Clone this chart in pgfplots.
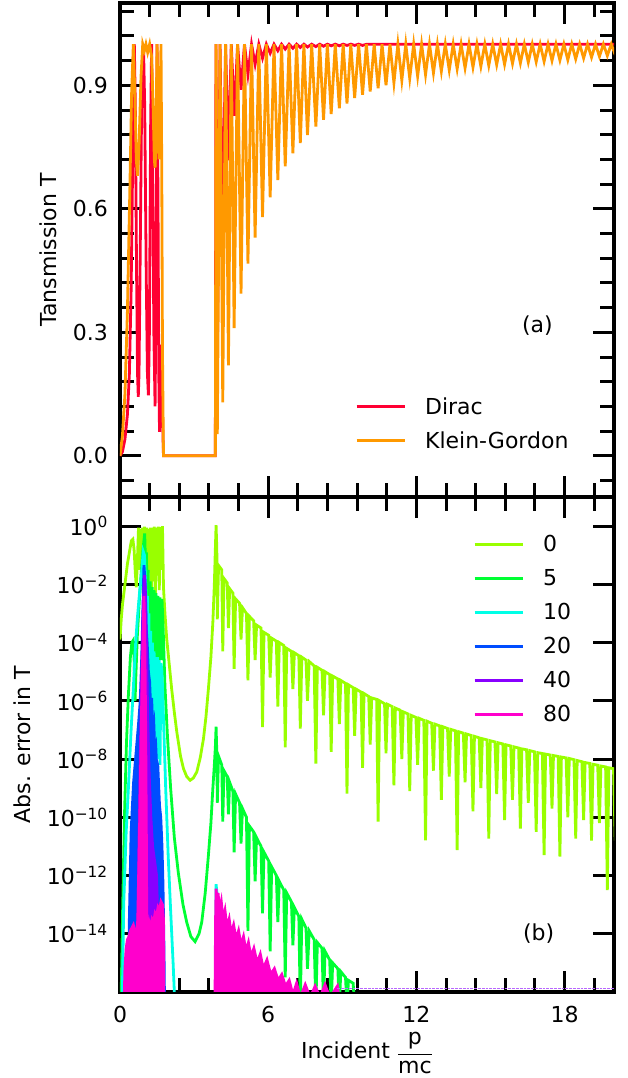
\documentclass[border=0pt]{standalone}
\usepackage{fontspec}
\setmainfont{DejaVu Sans}
\usepackage{pgfplots}
\pgfplotsset{compat=1.18}

\definecolor{cD}{RGB}{255,0,51}
\definecolor{cKG}{RGB}{255,153,0}
\definecolor{c0}{RGB}{153,255,0}
\definecolor{c5}{RGB}{0,255,51}
\definecolor{c10}{RGB}{0,255,230}
\definecolor{c20}{RGB}{0,77,255}
\definecolor{c40}{RGB}{136,0,255}
\definecolor{c80}{RGB}{255,0,204}

\newcommand{\lbl}{\fontsize{22}{26}\selectfont}

\pgfplotsset{panel/.style={
  scale only axis, width=494pt,
  xmin=0, xmax=20,
  xtick={0,6,12,18},
  minor xtick={1.2,2.4,3.6,4.8,7.2,8.4,9.6,10.8,13.2,14.4,15.6,16.8,19.2},
  xtick pos=both, ytick pos=both,
  major tick length=21pt, minor tick length=14pt,
  tick style={black, line width=3pt},
  axis line style={line width=4pt},
  tick label style={font=\lbl},
  label style={font=\lbl},
  yticklabel style={inner sep=0pt, xshift=-12pt},
  xticklabel style={inner sep=0pt, yshift=-14pt},
  legend style={draw=none, fill=none, font=\lbl, inner sep=0pt,
    row sep=14.3pt, column sep=18pt, nodes={inner sep=1pt}},
  legend cell align=left,
  legend image code/.code={\draw[#1, line width=3pt] (0pt,0pt) -- (48pt,0pt);},
  every axis plot/.append style={line width=2.8pt},
}}

\begin{document}
\begin{tikzpicture}

% ---------- lower panel: absolute error (log10 values) ----------
\begin{axis}[panel, name=bot, at={(0,0)}, anchor=south west,
  height=495pt,
  ymin=-16, ymax=1,
  ytick={-14,-12,-10,-8,-6,-4,-2,0},
  yticklabels={10\textsuperscript{−14},10\textsuperscript{−12},10\textsuperscript{−10},10\textsuperscript{−8},10\textsuperscript{−6},10\textsuperscript{−4},10\textsuperscript{−2},10\textsuperscript{0}},
  xticklabels={0,6,12,18},
  xlabel={Incident $\displaystyle\frac{\mbox{p}}{\mbox{mc}}$},
  xlabel style={at={(axis description cs:0.5,0)}, anchor=center, yshift=-61pt},
  ylabel={Abs. error in T},
  ylabel style={at={(axis description cs:-0.198,0.5)}, anchor=center},
  legend style={at={(axis cs:14.29,-0.27)}, anchor=north west},
]
\addplot[c0] coordinates {
(0.0,-3.9) (0.05,-3.2) (0.1,-2.7) (0.2,-2.0) (0.3,-1.3) (0.4,-0.8) (0.46,-0.5) (0.52,-0.45)
(0.57,-0.8) (0.62,-1.6) (0.66,-2.1) (0.7,-1.3) (0.75,-0.05) (0.79,-1.5) (0.83,-0.1) (0.87,-2.0)
(0.91,-0.05) (0.95,-1.2) (0.99,-0.02) (1.03,-1.8) (1.07,-0.05) (1.11,-2.3) (1.15,-0.1) (1.19,-1.6)
(1.23,-0.05) (1.27,-2.4) (1.31,-0.05) (1.35,-1.9) (1.39,-0.02) (1.43,-2.6) (1.47,-0.05) (1.51,-1.7)
(1.55,-0.02) (1.59,-2.2) (1.63,-0.03) (1.67,-1.5) (1.72,0.0) (1.76,-2.1) (1.82,-3.0) (1.89,-3.86)
(2.0,-4.8) (2.09,-5.58) (2.2,-6.4) (2.3,-7.07) (2.45,-7.9) (2.57,-8.33) (2.7,-8.6) (2.84,-8.73)
(2.97,-8.65) (3.11,-8.44) (3.25,-7.95) (3.38,-7.3) (3.48,-6.55) (3.58,-5.58) (3.68,-4.5) (3.76,-3.29)
(3.82,-2.0) (3.86,-0.8) (3.89,0.03) (3.92,-0.8) (3.94,-3.2)
(3.99,-1.35) (4.12,-1.5) (4.16,-4.3)
(4.21,-1.8) (4.34,-1.95) (4.39,-3.5)
(4.44,-2.15) (4.57,-2.3) (4.62,-4.9)
(4.68,-2.5) (4.84,-2.65) (4.90,-3.9)
(4.96,-2.8) (5.12,-3.0) (5.18,-5.3)
(5.24,-3.1) (5.41,-3.25) (5.47,-4.6)
(5.53,-3.4) (5.71,-3.5) (5.77,-6.9)
(5.83,-3.65) (6.02,-3.75) (6.08,-5.2)
(6.14,-3.85) (6.33,-3.95) (6.39,-6.2)
(6.45,-4.0) (6.63,-4.1) (6.69,-7.6)
(6.75,-4.2) (6.94,-4.3) (7.00,-5.6)
(7.06,-4.35) (7.24,-4.45) (7.30,-6.95)
(7.36,-4.5) (7.53,-4.6) (7.59,-6.0)
(7.66,-4.65) (7.86,-4.8) (7.93,-8.16)
(7.99,-4.85) (8.18,-4.95) (8.24,-6.5)
(8.30,-5.0) (8.49,-5.1) (8.55,-7.75)
(8.61,-5.15) (8.82,-5.25) (8.88,-6.8)
(8.94,-5.3) (9.13,-5.4) (9.19,-9.19)
(9.25,-5.45) (9.44,-5.55) (9.50,-7.2)
(9.56,-5.6) (9.76,-5.7) (9.82,-8.3)
(9.88,-5.75) (10.07,-5.85) (10.13,-7.5)
(10.19,-5.9) (10.39,-5.95) (10.45,-10.15)
(10.51,-6.0) (10.71,-6.1) (10.77,-7.8)
(10.83,-6.12) (11.02,-6.2) (11.09,-8.9)
(11.15,-6.25) (11.34,-6.32) (11.41,-8.0)
(11.47,-6.38) (11.66,-6.45) (11.73,-9.1)
(11.79,-6.5) (11.98,-6.57) (12.05,-8.2)
(12.11,-6.6) (12.30,-6.67) (12.37,-10.79)
(12.43,-6.7) (12.62,-6.77) (12.69,-8.4)
(12.75,-6.8) (12.94,-6.86) (13.01,-9.4)
(13.07,-6.89) (13.26,-6.95) (13.33,-8.6)
(13.39,-6.98) (13.58,-7.03) (13.65,-11.13)
(13.71,-7.06) (13.90,-7.11) (13.97,-8.8)
(14.03,-7.14) (14.22,-7.19) (14.29,-9.8)
(14.35,-7.22) (14.54,-7.27) (14.61,-9.0)
(14.67,-7.3) (14.86,-7.34) (14.93,-10.73)
(14.99,-7.37) (15.18,-7.41) (15.25,-9.2)
(15.31,-7.44) (15.50,-7.48) (15.57,-10.1)
(15.63,-7.51) (15.82,-7.55) (15.89,-9.4)
(15.95,-7.58) (16.14,-7.62) (16.21,-10.39)
(16.27,-7.65) (16.46,-7.68) (16.53,-9.5)
(16.59,-7.71) (16.78,-7.75) (16.85,-10.5)
(16.91,-7.78) (17.10,-7.81) (17.17,-11.3)
(17.23,-7.83) (17.42,-7.86) (17.49,-9.7)
(17.55,-7.88) (17.74,-7.91) (17.81,-11.35)
(17.87,-7.93) (18.06,-7.96) (18.13,-10.0)
(18.19,-7.98) (18.38,-8.02) (18.45,-10.73)
(18.51,-8.05) (18.70,-8.09) (18.77,-10.1)
(18.83,-8.12) (19.02,-8.15) (19.09,-10.8)
(19.15,-8.18) (19.34,-8.21) (19.41,-10.2)
(19.47,-8.24) (19.66,-8.27) (19.73,-12.5)
(19.79,-8.3) (19.98,-8.33) (20.05,-10.8)
};
\addlegendentry{0}

\addplot[c5] coordinates {
(0.0,-17) (0.05,-16.0) (0.1,-13.5) (0.18,-10.0) (0.26,-7.5) (0.34,-5.8) (0.42,-4.5) (0.48,-4.0)
(0.53,-3.93) (0.57,-4.5) (0.61,-6.0) (0.64,-5.2) (0.7,-3.8) (0.78,-2.6) (0.86,-1.6) (0.93,-0.8)
(1.0,-0.25) (1.04,-1.5) (1.07,-0.9) (1.1,-2.8) (1.14,-1.5) (1.18,-3.6) (1.22,-1.9) (1.26,-4.0)
(1.3,-2.1) (1.34,-4.3) (1.38,-2.2) (1.42,-4.5) (1.46,-2.3) (1.5,-4.5) (1.54,-2.4) (1.58,-4.6)
(1.62,-2.45) (1.66,-4.6) (1.7,-2.5) (1.75,-3.6) (1.82,-5.5) (1.92,-7.2) (2.05,-9.0) (2.2,-10.7)
(2.36,-11.9) (2.55,-13.0) (2.7,-13.6) (2.87,-14.1) (3.04,-14.27) (3.2,-14.0) (3.31,-13.6) (3.45,-12.6)
(3.58,-11.3) (3.68,-10.2) (3.76,-9.0) (3.82,-8.2) (3.86,-7.6) (3.89,-6.89) (3.92,-7.8) (3.94,-9.5)
(3.99,-7.9) (4.12,-8.2) (4.16,-10.15)
(4.21,-8.4) (4.34,-8.6) (4.39,-9.9)
(4.44,-8.8) (4.57,-9.1) (4.62,-11.2)
(4.68,-9.2) (4.84,-9.5) (4.90,-10.9)
(4.96,-9.7) (5.12,-10.0) (5.18,-13.9)
(5.24,-10.3) (5.41,-10.5) (5.47,-12.2)
(5.53,-10.7) (5.71,-11.0) (5.77,-13.3)
(5.83,-11.2) (6.02,-11.5) (6.08,-14.6)
(6.14,-11.7) (6.33,-12.0) (6.39,-13.6)
(6.45,-12.2) (6.63,-12.5) (6.69,-15.5)
(6.75,-12.6) (6.94,-12.9) (7.00,-14.4)
(7.06,-13.1) (7.24,-13.4) (7.30,-16.5)
(7.36,-13.5) (7.53,-13.8) (7.59,-15.2)
(7.66,-13.9) (7.86,-14.2) (7.93,-16.5)
(7.99,-14.3) (8.18,-14.5) (8.24,-16.5)
(8.30,-14.6) (8.49,-14.9) (8.55,-16.5)
(8.61,-15.0) (8.82,-15.2) (8.88,-16.5)
(8.94,-15.3) (9.13,-15.5) (9.19,-16.5)
(9.25,-15.6) (9.44,-15.7) (9.50,-16.5) (9.6,-17)
};
\addlegendentry{5}

\addplot[c10] coordinates {
(0.08,-17) (0.15,-13.0) (0.25,-10.5) (0.34,-9.0) (0.45,-7.0) (0.54,-5.58) (0.62,-4.2) (0.7,-3.2)
(0.8,-2.2) (0.88,-1.56) (0.94,-0.87) (0.99,-1.0) (1.04,-2.0) (1.08,-3.0) (1.11,-2.4) (1.14,-5.0)
(1.17,-3.0) (1.2,-6.0) (1.24,-3.6) (1.27,-6.5) (1.31,-4.0) (1.34,-7.0) (1.38,-4.3) (1.41,-7.5)
(1.45,-4.5) (1.48,-7.8) (1.52,-4.5) (1.55,-8.0) (1.59,-4.6) (1.62,-8.2) (1.66,-4.7) (1.7,-5.0)
(1.76,-6.6) (1.85,-9.0) (1.95,-11.3) (2.05,-13.2) (2.15,-15.0) (2.25,-17)
};
\addlegendentry{10}
\addplot[c10, forget plot] coordinates {
(3.86,-17) (3.89,-12.3) (3.95,-12.8) (4.05,-13.2) (4.15,-13.4) (4.3,-13.8) (4.5,-14.2) (4.7,-17)
};

\addplot[c20, fill=c20] coordinates {
(0.33,-17) (0.38,-13.5) (0.45,-10.5) (0.55,-8.8) (0.65,-7.8) (0.75,-6.8) (0.82,-6.0) (0.88,-4.5)
(0.93,-2.8) (0.97,-1.34) (1.02,-2.0) (1.06,-3.5) (1.1,-4.0) (1.15,-5.0) (1.2,-5.35) (1.24,-6.2)
(1.28,-5.9) (1.33,-7.0) (1.37,-6.8) (1.41,-7.76) (1.45,-7.6) (1.5,-8.55) (1.54,-8.4) (1.6,-9.6)
(1.65,-10.0) (1.7,-11.0) (1.74,-12.3) (1.78,-14.5) (1.81,-17)
};
\addlegendentry{20}

\addplot[c40, fill=c40] coordinates {
(0.68,-17) (0.78,-10) (0.86,-6.0) (0.93,-3.0) (0.98,-1.8) (1.0,-1.68) (1.04,-2.6) (1.08,-4.5)
(1.12,-6.5) (1.18,-8.5) (1.25,-10.0) (1.32,-11.0) (1.4,-11.5) (1.48,-12.0) (1.53,-13.5) (1.58,-17)
};
\addlegendentry{40}

\addplot[c80, fill=c80] coordinates {
(0.15,-17) (0.2,-15.2) (0.25,-14.5) (0.3,-14.2) (0.36,-14.1) (0.42,-13.9) (0.48,-13.8) (0.54,-13.7)
(0.6,-13.9) (0.66,-14.3) (0.72,-13.5) (0.8,-10.0) (0.88,-6.0) (0.94,-3.5) (0.97,-2.4) (1.0,-3.5)
(1.04,-7.0) (1.07,-11.0) (1.09,-15.0) (1.1,-17)
};
\addlegendentry{80}
\addplot[c80, fill=c80, forget plot] coordinates {
(1.12,-17) (1.13,-14.0) (1.18,-13.6) (1.24,-13.8) (1.3,-13.5) (1.36,-13.6) (1.42,-13.3) (1.48,-13.4)
(1.54,-13.1) (1.6,-13.2) (1.66,-12.9) (1.72,-13.0) (1.76,-13.5) (1.78,-17)
};
\addplot[c80, fill=c80, forget plot] coordinates {
(3.84,-17) (3.87,-13.5) (3.89,-12.45) (3.93,-12.9) (3.97,-12.6) (4.03,-13.2) (4.1,-12.9) (4.17,-13.5)
(4.25,-13.2) (4.33,-13.8) (4.42,-13.5) (4.5,-14.0) (4.6,-13.7) (4.7,-14.2) (4.8,-13.9) (4.9,-14.4)
(5.0,-14.1) (5.1,-14.6) (5.2,-14.3) (5.3,-14.8) (5.42,-14.5) (5.55,-15.0) (5.68,-14.7) (5.8,-15.2)
(5.95,-14.9) (6.1,-15.4) (6.25,-15.2) (6.4,-15.6) (6.55,-15.4) (6.7,-15.8) (6.85,-15.6) (7.0,-16.1)
(7.15,-15.7) (7.3,-16.2) (7.5,-15.75) (7.7,-16.2) (7.9,-15.8) (8.1,-16.2) (8.3,-15.75) (8.5,-16.2)
(8.8,-15.8) (9.0,-17)
};
\addplot[c40!60, densely dotted, line width=1pt, forget plot] coordinates {
(8.8,-15.87) (20,-15.87)
};
\node[font=\lbl] at (axis cs:16.95,-14.0) {(b)};
\end{axis}

% ---------- upper panel: transmission ----------
\begin{axis}[panel, name=top, at={(0,495pt)}, anchor=south west,
  height=494pt,
  ymin=-0.1, ymax=1.1,
  ytick={0,0.3,0.6,0.9},
  yticklabels={0.0,0.3,0.6,0.9},
  minor ytick={-0.06,0.06,0.12,0.18,0.24,0.36,0.42,0.48,0.54,0.66,0.72,0.78,0.84,0.96,1.02,1.08},
  xticklabels={},
  ylabel={Tansmission T},
  ylabel style={at={(axis description cs:-0.1457,0.5)}, anchor=center},
  legend style={at={(axis cs:9.51,0.145)}, anchor=north west},
]
\addplot[cD] coordinates {
(0,0) (0.1,0.01) (0.2,0.04) (0.3,0.1) (0.38,0.2) (0.45,0.4) (0.5,0.65) (0.55,0.9) (0.58,1.0)
(0.62,0.85) (0.67,0.45) (0.71,0.2) (0.74,0.143) (0.77,0.2) (0.82,0.5) (0.88,0.88) (0.95,1.0)
(1.0,0.85) (1.06,0.45) (1.11,0.2) (1.15,0.147) (1.19,0.3) (1.24,0.8) (1.28,1.0) (1.32,0.75)
(1.37,0.3) (1.42,0.12) (1.46,0.4) (1.5,1.0) (1.54,0.6) (1.57,0.2) (1.6,0.058) (1.63,0.15)
(1.66,0.27) (1.7,0.15) (1.76,0.0) (3.86,0.0)
(3.885,1.0) (3.94,0.22) (4.05,1.0) (4.15,0.536) (4.275,1.0) (4.39,0.718) (4.505,1.0) (4.63,0.826)
(4.76,1.0) (4.90,0.889) (5.04,1.0) (5.18,0.927) (5.325,1.0) (5.47,0.951) (5.62,1.0) (5.77,0.966)
(5.925,1.0) (6.08,0.978) (6.235,1.0) (6.39,0.984) (6.54,1.0) (6.69,0.988) (6.845,1.0) (7.00,0.990)
(7.15,1.0) (7.30,0.992) (7.445,1.0) (7.59,0.993) (7.76,1.0) (7.93,0.994) (8.085,1.0) (8.24,0.995)
(8.395,1.0) (8.55,0.996) (8.715,1.0) (8.88,0.996) (9.035,1.0) (9.19,0.997) (9.345,1.0) (9.50,0.997)
(9.66,1.0) (9.82,0.997) (10.0,1.0) (20,1.0)
};
\addlegendentry{Dirac}

\addplot[cKG] coordinates {
(0,0) (0.1,0.05) (0.2,0.15) (0.3,0.35) (0.4,0.65) (0.47,0.88) (0.54,1.0) (0.6,0.88) (0.66,0.72)
(0.71,0.68) (0.77,0.75) (0.85,0.92) (0.92,1.0) (0.99,0.985) (1.05,1.0) (1.12,0.98) (1.2,1.0)
(1.28,0.97) (1.34,0.85) (1.39,0.72) (1.42,0.70) (1.45,0.75) (1.5,1.0) (1.55,0.8) (1.58,0.72)
(1.62,0.85) (1.66,1.0) (1.69,0.7) (1.72,0.25) (1.76,0.0) (3.86,0.0)
(3.89,1.0) (3.94,0.053) (4.05,1.0) (4.16,0.13) (4.275,1.0) (4.39,0.22) (4.505,1.0) (4.62,0.31)
(4.76,1.0) (4.90,0.394) (5.04,1.0) (5.18,0.467) (5.325,1.0) (5.47,0.53) (5.62,1.0) (5.77,0.58)
(5.925,1.0) (6.08,0.628) (6.235,1.0) (6.39,0.67) (6.54,1.0) (6.69,0.703) (6.845,1.0) (7.00,0.735)
(7.15,1.0) (7.30,0.76) (7.445,1.0) (7.59,0.779) (7.76,1.0) (7.93,0.80) (8.085,1.0) (8.24,0.816)
(8.395,1.0) (8.55,0.830) (8.715,1.0) (8.88,0.844) (9.035,1.0) (9.19,0.856) (9.345,1.0) (9.50,0.869)
(9.66,1.0) (9.82,0.877) (9.975,1.0) (10.13,0.885) (10.29,1.0) (10.45,0.893) (10.61,1.0) (10.77,0.900)
(10.93,1.0) (11.09,0.906) (11.25,1.0) (11.41,0.912) (11.57,1.0) (11.73,0.917) (11.89,1.0) (12.05,0.922)
(12.21,1.0) (12.37,0.926) (12.53,1.0) (12.69,0.930) (12.85,1.0) (13.01,0.934) (13.17,1.0) (13.33,0.937)
(13.49,1.0) (13.65,0.940) (13.81,1.0) (13.97,0.942) (14.13,1.0) (14.29,0.944) (14.45,1.0) (14.61,0.946)
(14.77,1.0) (14.93,0.948) (15.09,1.0) (15.25,0.950) (15.41,1.0) (15.57,0.951) (15.73,1.0) (15.89,0.953)
(16.05,1.0) (16.21,0.954) (16.37,1.0) (16.53,0.956) (16.69,1.0) (16.85,0.957) (17.01,1.0) (17.17,0.958)
(17.33,1.0) (17.49,0.960) (17.65,1.0) (17.81,0.961) (17.97,1.0) (18.13,0.962) (18.29,1.0) (18.45,0.964)
(18.61,1.0) (18.77,0.966) (18.93,1.0) (19.09,0.968) (19.25,1.0) (19.41,0.970) (19.57,1.0) (19.73,0.972)
(19.89,1.0) (20.05,0.974)
};
\addlegendentry{Klein-Gordon}
\node[font=\lbl] at (axis cs:16.9,0.317) {(a)};
\end{axis}

\path (bot.south west) ++(-120pt,-86pt) rectangle ++(628pt,1078pt);
\end{tikzpicture}
\end{document}
